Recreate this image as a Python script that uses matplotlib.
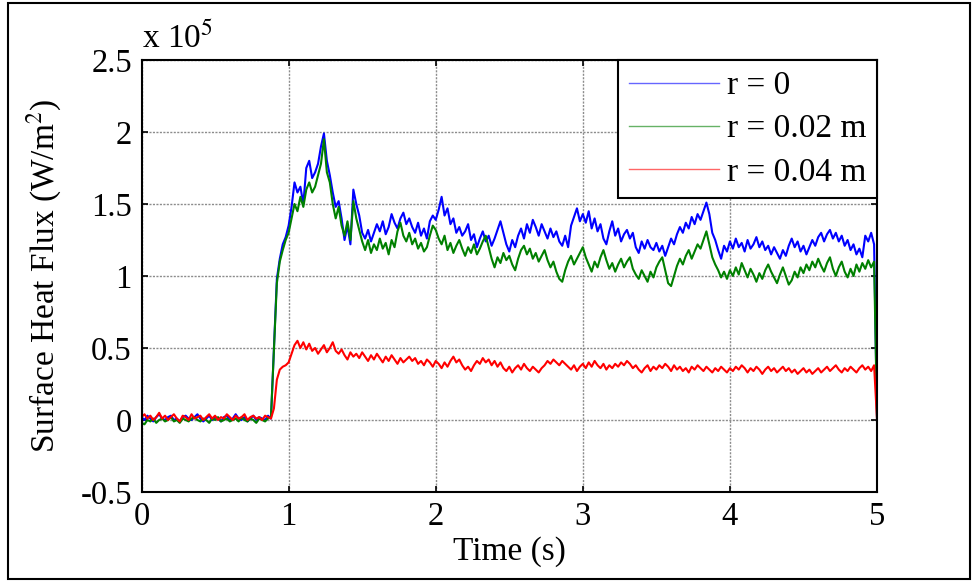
import numpy as np
import matplotlib
matplotlib.use("Agg")
import matplotlib.pyplot as plt
from matplotlib.ticker import FuncFormatter
from matplotlib.patches import Rectangle

plt.rcParams['font.family'] = ['Liberation Serif', 'DejaVu Serif']
plt.rcParams['mathtext.fontset'] = 'stix'
plt.rcParams['axes.unicode_minus'] = False

# Surface heat flux samples, in kW/m^2, every 0.02 s from 0 to 5 s
flux_r0 = [
    2, 0, 3, 1, -1, 2, 4, 1, 0, 2,
    3, 0, 1, -1, 2, 3, 1, 0, 2, 4,
    1, -1, 1, 3, 0, 2, 1, -1, 2, 3,
    0, 1, 4, 1, 0, 2, -1, 1, 3, 0,
    2, 1, 0, 3, 1, 50, 98, 112, 122, 127,
    135, 148, 165, 158, 162, 150, 175, 180, 168, 172,
    178, 190, 199, 180, 170, 158, 148, 152, 140, 125,
    135, 122, 160, 150, 142, 130, 126, 132, 124, 130,
    136, 131, 138, 129, 134, 143, 137, 133, 140, 144,
    136, 140, 134, 130, 137, 128, 133, 126, 138, 142,
    139, 146, 155, 142, 147, 136, 140, 130, 134, 128,
    131, 136, 125, 129, 120, 126, 131, 124, 128, 121,
    126, 132, 138, 130, 122, 117, 125, 120, 128, 133,
    126, 136, 130, 139, 134, 128, 136, 131, 126, 133,
    127, 131, 124, 121, 128, 120, 135, 141, 147, 138,
    143, 137, 145, 133, 140, 131, 136, 126, 122, 131,
    138, 128, 133, 124, 129, 132, 126, 130, 120, 116,
    124, 119, 125, 120, 118, 123, 117, 121, 114, 120,
    126, 122, 129, 134, 130, 137, 133, 141, 136, 143,
    139, 145, 151, 143, 130, 125, 118, 112, 121, 117,
    124, 119, 126, 120, 123, 117, 125, 119, 122, 127,
    120, 124, 118, 121, 115, 120, 116, 112, 118, 114,
    121, 126, 120, 124, 117, 121, 115, 120, 125, 121,
    127, 130, 124, 129, 132, 126, 130, 124, 128, 121,
    125, 118, 122, 115, 119, 113, 128, 124, 130, 122,
    0,
]

flux_r002 = [
    -2, -3, 0, -1, 1, -2, 0, 1, -1, 0,
    2, -1, 0, -2, 1, 0, -1, 1, 2, 0,
    -1, 1, 0, -2, 1, 0, 2, -1, 0, 1,
    -1, 0, 1, -1, 2, 0, -1, 1, 0, -2,
    1, 0, -1, 1, 2, 48, 95, 110, 118, 125,
    130, 140, 150, 145, 155, 148, 160, 165, 158, 162,
    170, 178, 195, 172, 165, 150, 140, 148, 135, 128,
    138, 125, 152, 140, 132, 124, 118, 125, 116, 122,
    118, 126, 119, 123, 115, 125, 120, 131, 137, 128,
    124, 130, 122, 126, 119, 123, 117, 120, 128, 135,
    132, 126, 122, 128, 118, 123, 116, 121, 125, 119,
    114, 120, 116, 122, 115, 119, 124, 128, 120, 112,
    106, 113, 109, 116, 111, 114, 108, 104, 112, 118,
    121, 115, 119, 112, 116, 110, 114, 118, 111, 106,
    110, 103, 98, 96, 104, 110, 114, 108, 112, 116,
    120, 113, 108, 103, 110, 106, 113, 118, 111, 105,
    109, 103, 108, 112, 106, 110, 113, 105, 101, 98,
    104, 100, 96, 103, 99, 106, 110, 113, 104, 95,
    93, 100, 107, 112, 108, 114, 118, 112, 117, 122,
    119, 125, 131, 122, 113, 108, 104, 99, 103, 98,
    104, 100, 106, 101, 109, 104, 99, 105, 101, 96,
    102, 98, 104, 108, 103, 99, 95, 101, 106, 100,
    94, 97, 103, 99, 106, 102, 108, 104, 110, 106,
    112, 107, 103, 109, 113, 105, 100, 106, 110, 103,
    99, 105, 100, 108, 103, 109, 105, 111, 106, 110,
    0,
]

flux_r004 = [
    2, 4, 1, 3, 0, 2, 5, 1, 3, 0,
    2, 4, 1, -1, 3, 2, 0, 4, 1, 2,
    3, 0, 2, 4, 1, 3, 0, 2, 1, 4,
    2, 0, 3, 1, 2, 4, 0, 2, 3, 1,
    2, 0, 3, 2, 1, 8, 28, 35, 37, 38,
    40, 46, 52, 55, 50, 54, 49, 53, 48, 50,
    46, 49, 52, 47, 50, 54, 48, 46, 49, 45,
    42, 47, 44, 46, 43, 47, 44, 41, 45, 42,
    46, 43, 40, 44, 41, 45, 42, 39, 43, 40,
    42, 44, 41, 43, 39, 41, 38, 42, 40, 37,
    41, 39, 36, 40, 37, 41, 44, 40, 42, 38,
    35, 37, 34, 38, 41, 39, 43, 40, 42, 38,
    41, 37, 40, 36, 34, 37, 33, 36, 38, 35,
    39, 36, 34, 37, 35, 33, 36, 38, 41, 39,
    42, 40, 38, 41, 39, 37, 35, 38, 34, 37,
    39, 36, 40, 37, 41, 38, 36, 39, 35, 38,
    36, 39, 37, 40, 38, 41, 39, 36, 38, 35,
    33, 36, 38, 34, 37, 35, 38, 36, 39, 37,
    34, 38, 35, 37, 34, 36, 33, 37, 35, 38,
    36, 34, 37, 35, 33, 36, 34, 37, 35, 33,
    36, 34, 37, 35, 38, 36, 33, 36, 34, 37,
    35, 32, 35, 37, 34, 36, 33, 35, 37, 34,
    36, 33, 35, 32, 34, 36, 33, 35, 32, 34,
    36, 33, 35, 37, 34, 36, 38, 35, 33, 36,
    34, 37, 35, 33, 36, 38, 35, 37, 34, 38,
    0,
]

labels = ['r = 0', 'r = 0.02 m', 'r = 0.04 m']
colors = ['#0000ff', '#008000', '#ff0000']
y_ticks = [-0.5e5, 0, 0.5e5, 1e5, 1.5e5, 2e5, 2.5e5]
x_ticks = [0, 1, 2, 3, 4, 5]

series = [np.array(s, dtype=float) * 1e3 for s in (flux_r0, flux_r002, flux_r004)]
time = np.linspace(0.0, 5.0, len(flux_r0))

fig = plt.figure(figsize=(9.72, 5.81), dpi=100)
ax = fig.add_axes([0.1456, 0.1532, 0.7567, 0.7435])

for vals, col, lab in zip(series, colors, labels):
    ax.plot(time, vals, color=col, lw=1.5, label=lab)

ax.set_xlim(0, 5)
ax.set_ylim(-0.5e5, 2.5e5)
ax.set_xticks(x_ticks)
ax.set_yticks(y_ticks)
ax.yaxis.set_major_formatter(FuncFormatter(lambda v, _: f'{v / 1e5:g}'))
ax.tick_params(direction='in', length=4, width=1.2, top=True, right=True,
               labelsize=23.5, pad=7, colors='black')
ax.grid(True, color='0.55', linestyle=(0, (1.5, 1.0)), linewidth=1.0)
ax.set_axisbelow(True)
for sp in ax.spines.values():
    sp.set_linewidth(1.5)
    sp.set_color('black')

ax.set_xlabel('Time (s)', fontsize=24, labelpad=3)
ax.set_ylabel('Surface Heat Flux (W/m$^2$)', fontsize=24, labelpad=12)

fig.text(0.146, 0.917, 'x 10$^{5}$', fontsize=24, ha='left', va='baseline')

leg = ax.legend(loc='upper right', bbox_to_anchor=(1.0, 1.0), borderaxespad=0,
                fontsize=24, handlelength=2.7, handletextpad=0.25,
                labelspacing=0.38, borderpad=0.32, fancybox=False,
                framealpha=1.0, edgecolor='black')
leg.get_frame().set_linewidth(1.5)
for ln in leg.get_lines():
    ln.set_linewidth(1.0)
    ln.set_alpha(0.6)

# Figure border
fig.patches.append(Rectangle((0.0082, 0.0034), 0.9898, 0.9914, transform=fig.transFigure,
                             fill=False, edgecolor='black', linewidth=1.5))

fig.savefig('out.png', dpi=100)
